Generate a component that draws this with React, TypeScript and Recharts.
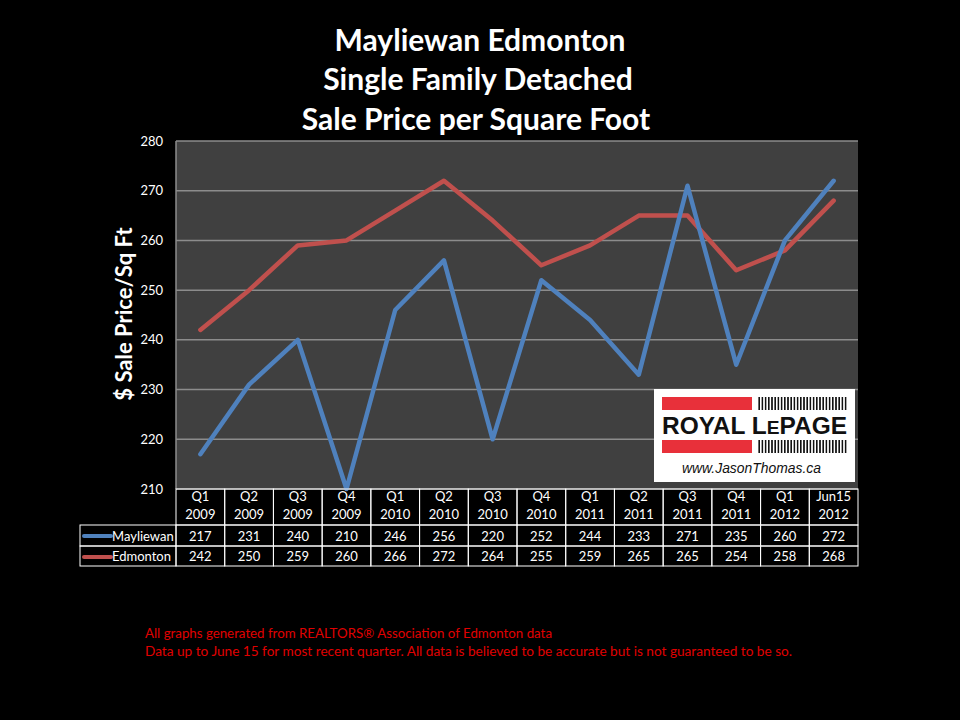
import { CartesianGrid, Line, LineChart, XAxis, YAxis } from "recharts";

const quarters = ["Q1", "Q2", "Q3", "Q4", "Q1", "Q2", "Q3", "Q4", "Q1", "Q2", "Q3", "Q4", "Q1", "Jun15"];
const years = ["2009", "2009", "2009", "2009", "2010", "2010", "2010", "2010", "2011", "2011", "2011", "2011", "2012", "2012"];
const mayliewan = [217, 231, 240, 210, 246, 256, 220, 252, 244, 233, 271, 235, 260, 272];
const edmonton = [242, 250, 259, 260, 266, 272, 264, 255, 259, 265, 265, 254, 258, 268];
const yTicks = [210, 220, 230, 240, 250, 260, 270, 280];

const data = quarters.map((q, i) => ({
  key: `${q} ${years[i]}`,
  quarter: q,
  year: years[i],
  mayliewan: mayliewan[i],
  edmonton: edmonton[i],
}));

const BLUE = "#4f81bd";
const RED = "#c0504d";
const FONT = "Lato, 'Open Sans', sans-serif";

// plot box: 176..858 x 141..489
const PLOT_W = 682;
const BAND = PLOT_W / quarters.length;

function TableTick(props: any) {
  const { x, y, payload } = props;
  const i = payload?.index ?? props.index ?? 0;
  const left = x - BAND / 2;
  const top = y;
  const txt = { fill: "#fff", fontSize: 13, fontFamily: FONT, textAnchor: "middle" as const };
  return (
    <g>
      <rect x={left} y={top} width={BAND} height={36} fill="none" stroke="#fff" strokeWidth={1} />
      <text x={x} y={top + 12} {...txt}>{data[i].quarter}</text>
      <text x={x} y={top + 30} {...txt}>{data[i].year}</text>
      <rect x={left} y={top + 36} width={BAND} height={21} fill="none" stroke="#fff" strokeWidth={1} />
      <text x={x} y={top + 52} {...txt}>{data[i].mayliewan}</text>
      <rect x={left} y={top + 57} width={BAND} height={20} fill="none" stroke="#fff" strokeWidth={1} />
      <text x={x} y={top + 72} {...txt}>{data[i].edmonton}</text>
      {i === 0 && (
        <g>
          <rect x={80} y={top + 36} width={left - 80} height={21} fill="none" stroke="#fff" strokeWidth={1} />
          <rect x={80} y={top + 57} width={left - 80} height={20} fill="none" stroke="#fff" strokeWidth={1} />
          <line x1={84} x2={111} y1={top + 47} y2={top + 47} stroke={BLUE} strokeWidth={4} strokeLinecap="round" />
          <line x1={84} x2={111} y1={top + 68} y2={top + 68} stroke={RED} strokeWidth={4} strokeLinecap="round" />
          <text x={112} y={top + 52} fill="#fff" fontSize={13} fontFamily={FONT}>Mayliewan</text>
          <text x={112} y={top + 72} fill="#fff" fontSize={13} fontFamily={FONT}>Edmonton</text>
        </g>
      )}
    </g>
  );
}

function Overlay() {
  return (
    <svg width={960} height={720} style={{ position: "absolute", left: 0, top: 0, pointerEvents: "none" }}>
      <defs>
        <pattern id="bars" width={3.2} height={14} patternUnits="userSpaceOnUse">
          <rect x={0} y={0} width={1.6} height={14} fill="#111" />
        </pattern>
      </defs>
      <g fill="#fff" fontFamily={FONT} fontWeight={700} fontSize={30} textAnchor="middle">
        <text x={480} y={51}>Mayliewan Edmonton</text>
        <text x={478} y={90}>Single Family Detached</text>
        <text x={476} y={130}>Sale Price per Square Foot</text>
      </g>
      <text
        x={0}
        y={0}
        transform="translate(132 314) rotate(-90)"
        fill="#fff"
        fontFamily={FONT}
        fontWeight={700}
        fontSize={22}
        textAnchor="middle"
      >
        $ Sale Price/Sq Ft
      </text>
      {/* logo */}
      <rect x={654} y={389} width={201} height={93} fill="#fff" />
      <rect x={662} y={397} width={90} height={13} fill="#e8303a" />
      <rect x={757} y={397} width={90} height={13} fill="url(#bars)" />
      <rect x={662} y={440} width={90} height={13} fill="#e8303a" />
      <rect x={757} y={440} width={90} height={13} fill="url(#bars)" />
      <text x={662} y={434} fill="#111" fontFamily="'Liberation Sans', Arial, sans-serif" fontWeight={700} fontSize={23} textLength={185} lengthAdjust="spacingAndGlyphs">
        ROYAL L<tspan fontSize={18}>E</tspan>PAGE
      </text>
      <text x={682} y={473} fill="#111" fontFamily="'Liberation Sans', Arial, sans-serif" fontStyle="italic" fontSize={14} textLength={139} lengthAdjust="spacingAndGlyphs">
        www.JasonThomas.ca
      </text>
      {/* footnote */}
      <g fill="#e00000" fontFamily={FONT} fontSize={12.5}>
        <text x={145} y={638} textLength={407} lengthAdjust="spacingAndGlyphs">
          All graphs generated from REALTORS® Association of Edmonton data
        </text>
        <text x={145} y={656} textLength={647} lengthAdjust="spacingAndGlyphs">
          Data up to June 15  for most recent quarter. All data is believed to be accurate but is not guaranteed to be so.
        </text>
      </g>
    </svg>
  );
}

export default function App() {
  return (
    <div style={{ position: "absolute", left: 0, top: 0, width: 960, height: 720, background: "#000" }}>
      <LineChart
        width={960}
        height={720}
        data={data}
        margin={{ top: 141, right: 102, bottom: 151, left: 136 }}
      >
        <CartesianGrid vertical={false} fill="#404040" stroke="#8c8c8c" strokeWidth={1.5} />
        <XAxis
          dataKey="key"
          interval={0}
          height={80}
          tickLine={false}
          tickSize={0}
          tickMargin={0}
          axisLine={false}
          padding={{ left: BAND / 2, right: BAND / 2 }}
          tick={<TableTick />}
        />
        <YAxis
          width={40}
          domain={[210, 280]}
          ticks={yTicks}
          interval={0}
          tickLine={false}
          tickSize={0}
          tickMargin={13}
          axisLine={{ stroke: "#8c8c8c", strokeWidth: 1.5 }}
          tick={{ fill: "#fff", fontSize: 13, fontFamily: FONT }}
        />
        <Line
          dataKey="edmonton"
          stroke={RED}
          strokeWidth={4.5}
          strokeLinecap="round"
          strokeLinejoin="round"
          dot={false}
          activeDot={false}
          isAnimationActive={false}
        />
        <Line
          dataKey="mayliewan"
          stroke={BLUE}
          strokeWidth={4.5}
          strokeLinecap="round"
          strokeLinejoin="round"
          dot={false}
          activeDot={false}
          isAnimationActive={false}
        />
      </LineChart>
      <Overlay />
    </div>
  );
}
